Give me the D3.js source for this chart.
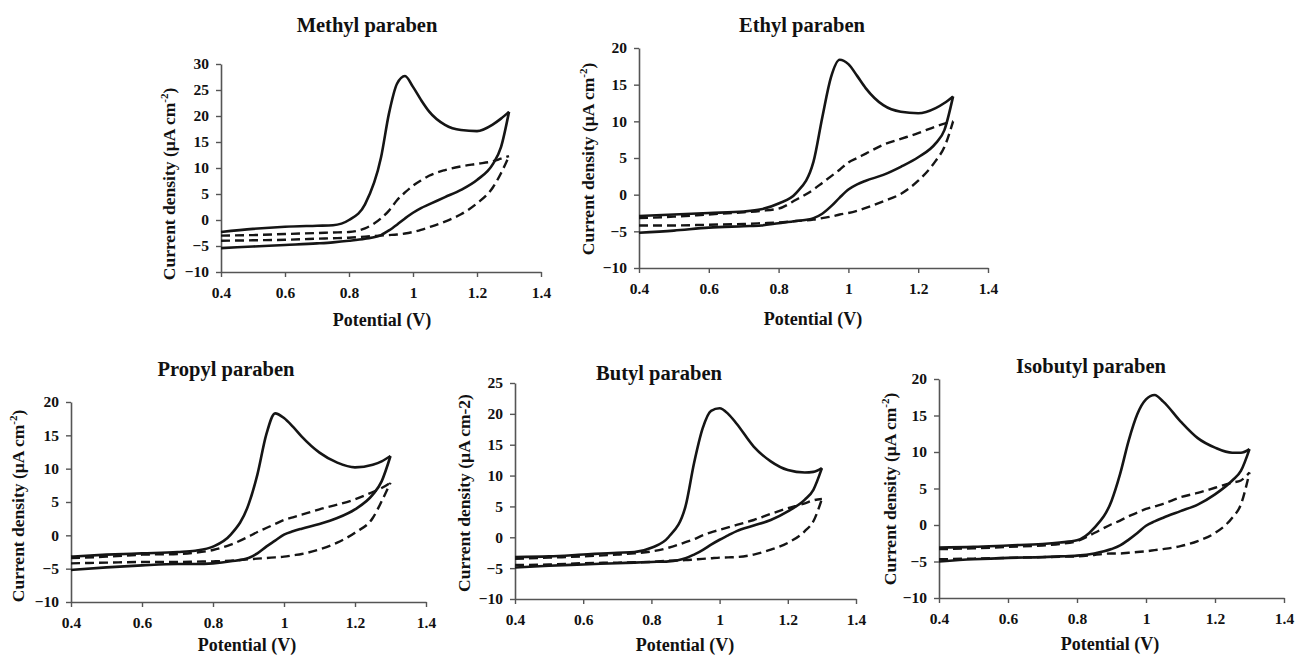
<!DOCTYPE html>
<html><head><meta charset="utf-8">
<script src="https://cdn.jsdelivr.net/npm/d3@7"></script>
<style>body{margin:0;background:#fff}svg{display:block}</style>
</head><body>
<svg id="c" width="1296" height="658"></svg>
<script>
// ---------- DATA ----------
const potential = [0.4, 0.5, 0.6, 0.7, 0.75, 0.8, 0.85, 0.9, 0.925, 0.95, 0.975, 1.0, 1.025, 1.05, 1.1, 1.15, 1.2, 1.25, 1.275, 1.3];

const titles = ["Methyl paraben", "Ethyl paraben", "Propyl paraben", "Butyl paraben", "Isobutyl paraben"];
const yMax = [30, 20, 20, 25, 20];
const yMin = -10;
const yTickStep = 5;
const xTicks = [0.4, 0.6, 0.8, 1.0, 1.2, 1.4];
const xTickLabels = ["0.4", "0.6", "0.8", "1", "1.2", "1.4"];
const xLabel = "Potential (V)";
const yLabelSuper = [true, true, true, false, true];

// solid = sample CV, dashed = blank; Fwd = anodic sweep, Rev = return sweep
const methylSolidFwd = [-2.3, -1.7, -1.3, -1.1, -1.0, 0.0, 3.0, 12.0, 20.5, 26.2, 27.7, 25.6, 23.1, 20.9, 18.3, 17.3, 17.1, 18.4, 19.5, 20.8];
const methylSolidRev = [-5.4, -5.1, -4.8, -4.5, -4.3, -4.0, -3.6, -2.9, -2.0, -0.9, 0.3, 1.4, 2.3, 3.0, 4.4, 5.8, 7.7, 10.8, 14.0, 20.8];
const methylDashFwd  = [-3.0, -2.9, -2.7, -2.5, -2.4, -2.3, -1.6, 0.3, 1.8, 3.8, 5.3, 6.6, 7.6, 8.5, 9.6, 10.3, 10.8, 11.3, 11.8, 12.3];
const methylDashRev  = [-4.0, -3.9, -3.8, -3.6, -3.5, -3.4, -3.2, -3.0, -2.9, -2.8, -2.6, -2.3, -1.9, -1.4, -0.3, 1.1, 3.2, 6.3, 9.0, 12.3];

const ethylSolidFwd = [-2.9, -2.7, -2.5, -2.3, -2.0, -1.2, 0.2, 4.5, 10.5, 16.0, 18.4, 17.8, 16.2, 14.5, 12.2, 11.3, 11.1, 11.8, 12.5, 13.4];
const ethylSolidRev = [-5.2, -4.9, -4.5, -4.3, -4.2, -3.9, -3.6, -3.2, -2.6, -1.6, -0.4, 0.7, 1.4, 1.9, 2.7, 3.8, 5.1, 7.0, 8.8, 13.4];
const ethylDashFwd  = [-3.2, -3.0, -2.7, -2.4, -2.2, -1.9, -0.7, 0.7, 1.6, 2.5, 3.4, 4.4, 5.0, 5.6, 6.8, 7.6, 8.4, 9.3, 9.7, 10.0];
const ethylDashRev  = [-4.2, -4.2, -4.1, -4.0, -3.9, -3.8, -3.6, -3.4, -3.2, -3.0, -2.7, -2.5, -2.2, -1.8, -0.9, 0.1, 1.9, 4.6, 6.5, 10.0];

const propylSolidFwd = [-3.2, -2.9, -2.7, -2.5, -2.3, -1.7, 0.1, 4.6, 9.1, 15.1, 18.3, 17.6, 16.3, 14.8, 12.4, 10.9, 10.2, 10.6, 11.1, 11.9];
const propylSolidRev = [-5.2, -4.8, -4.5, -4.3, -4.3, -4.2, -3.9, -3.4, -2.7, -1.7, -0.8, 0.1, 0.6, 1.0, 1.7, 2.6, 3.9, 6.1, 8.1, 11.9];
const propylDashFwd  = [-3.4, -3.2, -2.9, -2.8, -2.6, -2.2, -1.4, -0.2, 0.5, 1.1, 1.7, 2.3, 2.7, 3.1, 3.9, 4.6, 5.4, 6.5, 7.1, 7.9];
const propylDashRev  = [-4.2, -4.1, -4.0, -4.0, -3.95, -3.9, -3.8, -3.6, -3.5, -3.4, -3.3, -3.2, -3.0, -2.8, -2.1, -1.1, 0.4, 2.6, 5.1, 7.9];

const butylSolidFwd = [-3.2, -3.1, -2.8, -2.5, -2.4, -1.7, 0.0, 5.0, 12.0, 17.6, 20.5, 20.9, 20.0, 18.4, 14.7, 12.3, 10.9, 10.5, 10.6, 11.2];
const butylSolidRev = [-4.9, -4.6, -4.4, -4.2, -4.1, -4.0, -3.9, -3.4, -2.8, -2.1, -1.2, -0.4, 0.3, 1.0, 1.9, 2.8, 4.2, 6.1, 7.7, 11.2];
const butylDashFwd  = [-3.5, -3.3, -3.1, -2.8, -2.6, -2.3, -1.7, -0.8, -0.3, 0.3, 0.8, 1.2, 1.6, 2.0, 2.8, 3.8, 4.7, 5.5, 6.0, 6.2];
const butylDashRev  = [-4.5, -4.4, -4.2, -4.1, -4.05, -4.0, -3.8, -3.7, -3.6, -3.5, -3.4, -3.3, -3.25, -3.2, -2.8, -2.0, -0.9, 1.0, 2.6, 6.2];

const isobutylSolidFwd = [-3.1, -3.0, -2.8, -2.6, -2.4, -2.1, -0.4, 3.3, 7.0, 11.6, 15.2, 17.2, 17.8, 16.9, 14.2, 11.9, 10.6, 9.9, 9.9, 10.4];
const isobutylSolidRev = [-5.0, -4.7, -4.5, -4.4, -4.3, -4.2, -3.9, -3.3, -2.8, -2.0, -1.1, -0.1, 0.5, 1.0, 1.9, 2.8, 4.2, 6.1, 7.4, 10.4];
const isobutylDashFwd  = [-3.3, -3.2, -3.0, -2.8, -2.6, -2.2, -1.1, 0.1, 0.6, 1.2, 1.7, 2.2, 2.55, 2.9, 3.8, 4.4, 5.1, 5.8, 6.1, 7.2];
const isobutylDashRev  = [-4.7, -4.6, -4.5, -4.4, -4.35, -4.3, -4.1, -3.9, -3.9, -3.8, -3.7, -3.6, -3.45, -3.3, -2.9, -2.2, -1.1, 1.0, 2.8, 7.2];

const solidFwd = [methylSolidFwd, ethylSolidFwd, propylSolidFwd, butylSolidFwd, isobutylSolidFwd];
const solidRev = [methylSolidRev, ethylSolidRev, propylSolidRev, butylSolidRev, isobutylSolidRev];
const dashFwd  = [methylDashFwd, ethylDashFwd, propylDashFwd, butylDashFwd, isobutylDashFwd];
const dashRev  = [methylDashRev, ethylDashRev, propylDashRev, butylDashRev, isobutylDashRev];

// ---------- LAYOUT (pixels) ----------
const layout = [
  {x0: 221, x1: 541, yb: 272, yt: 64,  title: [367, 32],  ylab: [175, 184], xlab: [382, 326]},
  {x0: 639, x1: 988, yb: 268, yt: 48,  title: [802, 32],  ylab: [594, 159], xlab: [813, 325]},
  {x0: 71,  x1: 426, yb: 602, yt: 402, title: [226, 376], ylab: [24, 506],  xlab: [247, 651]},
  {x0: 515, x1: 856, yb: 599, yt: 383, title: [659, 380], ylab: [470, 493], xlab: [685, 651]},
  {x0: 939, x1: 1284, yb: 598, yt: 379, title: [1091, 373], ylab: [896, 489], xlab: [1110, 650]}
];

const FONT = "'Liberation Serif', 'Times New Roman', serif";
const svg = d3.select("#c");
svg.append("rect").attr("width", 1296).attr("height", 658).attr("fill", "#fff");

layout.forEach((L, p) => {
  const g = svg.append("g");
  const x = d3.scaleLinear().domain([0.4, 1.4]).range([L.x0, L.x1]);
  const y = d3.scaleLinear().domain([yMin, yMax[p]]).range([L.yb, L.yt]);
  const yTicks = d3.range(yMin, yMax[p] + 0.001, yTickStep);

  const xAxis = d3.axisBottom(x).tickValues(xTicks)
    .tickFormat((d, i) => xTickLabels[i]).tickSize(5).tickSizeOuter(0).tickPadding(10);
  const yAxis = d3.axisLeft(y).tickValues(yTicks)
    .tickFormat(d3.format("d")).tickSize(5).tickSizeOuter(0).tickPadding(7);

  const gx = g.append("g").attr("transform", `translate(0,${L.yb})`).call(xAxis);
  const gy = g.append("g").attr("transform", `translate(${L.x0},0)`).call(yAxis);
  [gx, gy].forEach(a => {
    a.select(".domain").attr("stroke", "#555").attr("stroke-width", 1.6);
    a.selectAll(".tick line").attr("stroke", "#555").attr("stroke-width", 1.4);
    a.selectAll(".tick text").attr("fill", "#111")
      .style("font-family", FONT).style("font-size", "15.5px").style("font-weight", "bold");
  });

  const line = d3.line().x(d => x(d[0])).y(d => y(d[1])).curve(d3.curveMonotoneX);
  const branch = arr => potential.map((e, i) => [e, arr[i]]);
  const drawLoop = (fwd, rev, dashed) => {
    [fwd, rev].forEach(arr => {
      const path = g.append("path").attr("d", line(branch(arr)))
        .attr("fill", "none").attr("stroke", "#151515")
        .attr("stroke-width", dashed ? 2.4 : 2.6)
        .attr("stroke-linejoin", "round");
      if (dashed) path.attr("stroke-dasharray", "9,5");
    });
  };
  drawLoop(dashFwd[p], dashRev[p], true);
  drawLoop(solidFwd[p], solidRev[p], false);

  g.append("text").attr("x", L.title[0]).attr("y", L.title[1]).attr("text-anchor", "middle")
    .style("font-family", FONT).style("font-size", "20.5px").style("font-weight", "bold")
    .attr("fill", "#111").text(titles[p]);

  g.append("text").attr("x", L.xlab[0]).attr("y", L.xlab[1]).attr("text-anchor", "middle")
    .style("font-family", FONT).style("font-size", "18px").style("font-weight", "bold")
    .attr("fill", "#111").text(xLabel);

  const yl = g.append("text").attr("text-anchor", "middle")
    .attr("transform", `translate(${L.ylab[0]},${L.ylab[1]}) rotate(-90)`)
    .style("font-family", FONT).style("font-size", "17.5px").style("font-weight", "bold")
    .attr("fill", "#111");
  if (yLabelSuper[p]) {
    yl.append("tspan").text("Current density (\u00b5A cm");
    yl.append("tspan").attr("dy", -7).style("font-size", "11px").text("-2");
    yl.append("tspan").attr("dy", 7).text(")");
  } else {
    yl.text("Current density (\u00b5A cm-2)");
  }
});
</script>
</body></html>
